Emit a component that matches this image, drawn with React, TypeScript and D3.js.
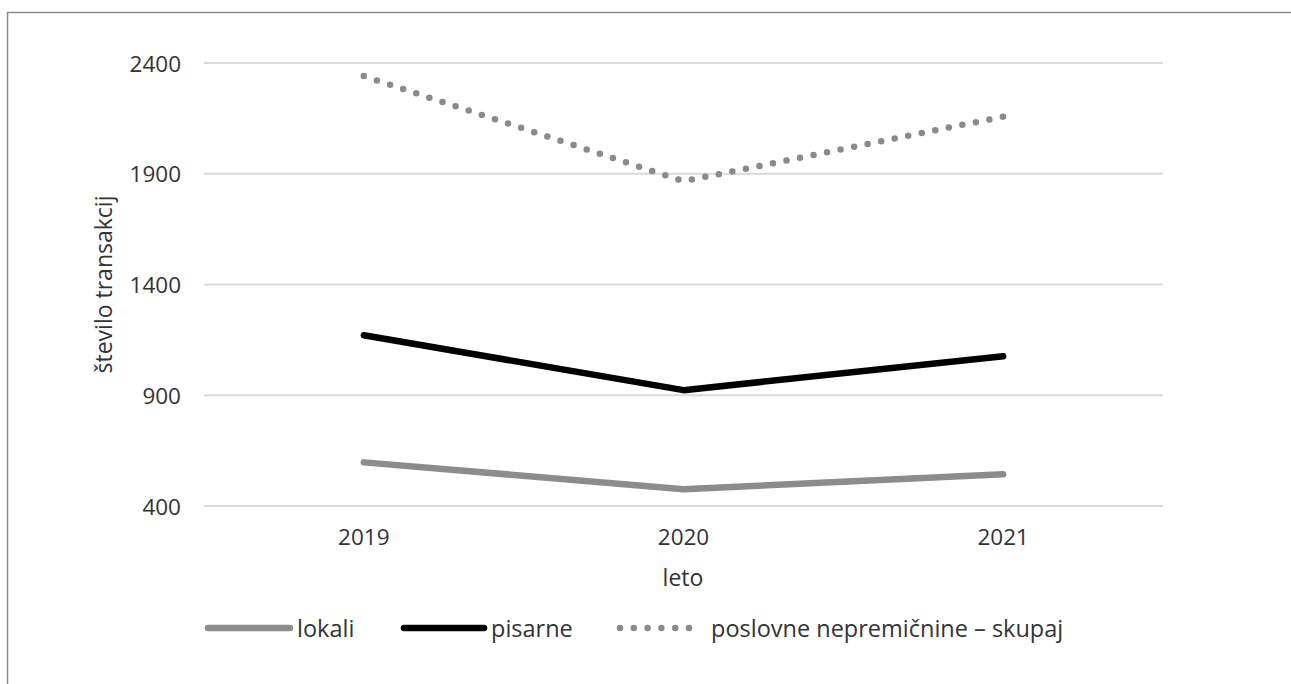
import React from "react";
import * as d3 from "d3";

const years = ["2019", "2020", "2021"];
const lokali = [597, 476, 543];
const pisarne = [1171, 923, 1076];
const skupaj = [2341, 1866, 2158];
const yTicks = [400, 900, 1400, 1900, 2400];

const seriesNames = ["lokali", "pisarne", "poslovne nepremičnine – skupaj"];

const W = 1291;
const H = 684;
const FONT = "'Open Sans', 'Noto Sans', sans-serif";
const TEXT = "#333333";

export default function App() {
  const x = d3.scalePoint<string>().domain(years).range([204, 1163]).padding(0.5);
  const y = d3.scaleLinear().domain([400, 2400]).range([506, 63]);
  const line = d3
    .line<number>()
    .x((_, i) => x(years[i]) as number)
    .y((d) => y(d));

  const styles = [
    { stroke: "#8c8c8c", width: 6.5, dash: undefined as string | undefined },
    { stroke: "#000000", width: 6.5, dash: undefined as string | undefined },
    { stroke: "#8a8a8a", width: 6.5, dash: "0 13.8" },
  ];
  const data = [lokali, pisarne, skupaj];
  const legendPos = [
    { x1: 208, x2: 290, tx: 297 },
    { x1: 404, x2: 484, tx: 491 },
    { x1: 620, x2: 690, tx: 711 },
  ];
  const legendY = 628;

  return (
    <svg
      width={W}
      height={H}
      style={{ position: "absolute", left: 0, top: 0, display: "block", background: "#fff" }}
    >
      <rect x={0} y={0} width={W} height={H} fill="#fff" />
      <line x1={7} y1={12.5} x2={W} y2={12.5} stroke="#8a8a8a" strokeWidth={1.5} />
      <line x1={7.5} y1={12} x2={7.5} y2={H} stroke="#8a8a8a" strokeWidth={1.5} />

      {yTicks.map((t) => (
        <g key={t}>
          <line x1={204} x2={1163} y1={y(t)} y2={y(t)} stroke="#d9d9d9" strokeWidth={2} />
          <text
            x={181}
            y={y(t)}
            textAnchor="end"
            dominantBaseline="central"
            fontFamily={FONT}
            fontSize={22.5}
            fill={TEXT}
          >
            {t}
          </text>
        </g>
      ))}

      {years.map((yr) => (
        <text
          key={yr}
          x={x(yr) as number}
          y={536}
          textAnchor="middle"
          dominantBaseline="central"
          fontFamily={FONT}
          fontSize={22.5}
          fill={TEXT}
        >
          {yr}
        </text>
      ))}

      <text
        x={683}
        y={577}
        textAnchor="middle"
        dominantBaseline="central"
        fontFamily={FONT}
        fontSize={23}
        fill={TEXT}
      >
        leto
      </text>
      <text
        transform={`translate(103, ${(y(400) + y(2400)) / 2}) rotate(-90)`}
        textAnchor="middle"
        dominantBaseline="central"
        fontFamily={FONT}
        fontSize={23}
        fill={TEXT}
      >
        število transakcij
      </text>

      {data.map((d, i) => (
        <path
          key={i}
          d={line(d) || ""}
          fill="none"
          stroke={styles[i].stroke}
          strokeWidth={styles[i].width}
          strokeDasharray={styles[i].dash}
          strokeLinecap="round"
          strokeLinejoin="round"
        />
      ))}

      {seriesNames.map((name, i) => (
        <g key={name}>
          <line
            x1={legendPos[i].x1}
            x2={legendPos[i].x2}
            y1={legendY}
            y2={legendY}
            stroke={styles[i].stroke}
            strokeWidth={styles[i].width}
            strokeDasharray={styles[i].dash}
            strokeLinecap="round"
          />
          <text
            x={legendPos[i].tx}
            y={legendY}
            dominantBaseline="central"
            fontFamily={FONT}
            fontSize={23.5}
            fill={TEXT}
          >
            {name}
          </text>
        </g>
      ))}
    </svg>
  );
}
